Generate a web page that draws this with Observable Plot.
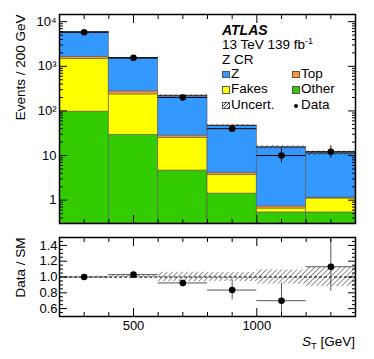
<!DOCTYPE html>
<html>
<head>
<meta charset="utf-8">
<script src="https://cdn.jsdelivr.net/npm/d3@7"></script>
<script src="https://cdn.jsdelivr.net/npm/@observablehq/plot@0.6"></script>
<style>
  html, body { margin: 0; padding: 0; background: white; }
  #wrap { position: relative; width: 374px; height: 359px; background: white; overflow: hidden;
          font-family: 'Liberation Sans', Arial, Helvetica, sans-serif; color: black; }
  #wrap > div > svg { display: block; }
  .lg { position: absolute; white-space: nowrap; font-size: 13.5px; line-height: 12px; }
  .box { position: absolute; width: 8px; height: 7.5px; box-sizing: border-box; border: 0.8px solid #555; }
  .sup { position: relative; top: -5px; font-size: 9px; }
  .sub { position: relative; top: 3px; font-size: 9.5px; }
</style>
</head>
<body>
<div id="wrap">
  <svg width="0" height="0" style="position:absolute">
    <defs>
      <pattern id="hatch" patternUnits="userSpaceOnUse" width="3.6" height="3.6" patternTransform="rotate(45)">
        <line x1="0" y1="0" x2="0" y2="3.6" stroke="#222" stroke-width="1"/>
      </pattern>
    </defs>
  </svg>
  <div id="main"></div>
  <div id="ratio"></div>
</div>
<script>
// ---------------- data ----------------
const binEdges   = [200, 400, 600, 800, 1000, 1200, 1400];
const zVals      = [4270, 1246, 192, 43, 14.7, 10.2];
const topVals    = [180, 39, 3.0, 0.41, 0.08, 0.05];
const fakesVals  = [1354, 206, 20.4, 2.3, 0.12, 0.56];
const otherVals  = [96, 29, 4.6, 1.4, 0.53, 0.53];
const relUnc     = [0.01, 0.02, 0.06, 0.056, 0.09, 0.12];
const dataVals   = [5800, 1560, 200, 40, 10, 12.2];
const dataLo     = [5724, 1520, 186, 34, 6.8, 8.7];
const dataHi     = [5876, 1600, 214, 46.5, 14.2, 16.5];
const ratioVals  = [1.00, 1.03, 0.925, 0.835, 0.70, 1.13];
const ratioLo    = [0.99, 1.00, 0.875, 0.71, 0.45, 0.82];
const ratioHi    = [1.01, 1.06, 0.96, 0.96, 0.92, 1.6];

const xMajorTicks = [500, 1000];
const xMinorTicks = [300, 400, 600, 700, 800, 900, 1100, 1200, 1300];
const yMajorTicks = [1, 10, 100, 1000, 10000];
const yMajorLabels = ["1", "10", "10\u00B2", "10\u00B3", "10\u2074"];
const yMinorTicks = [0.3,0.4,0.5,0.6,0.7,0.8,0.9, 2,3,4,5,6,7,8,9, 20,30,40,50,60,70,80,90,
                     200,300,400,500,600,700,800,900, 2000,3000,4000,5000,6000,7000,8000,9000];
const rMajorTicks = [0.6, 0.8, 1.0, 1.2, 1.4];
const rMinorTicks = [0.55,0.65,0.7,0.75,0.85,0.9,0.95,1.05,1.1,1.15,1.25,1.3,1.35,1.45];

const compNames  = ["Other", "Fakes", "Top", "Z"];
const compColors = ["#33cc00", "#ffff00", "#ff9933", "#3399ff"];
const compVals   = [otherVals, fakesVals, topVals, zVals];

const xDomain = [200, 1400];
const yDomain = [0.3, 14500];
const rDomain = [0.5, 1.5];

// ---------------- derived tables ----------------
const stackRows = [];
const bins = [];
for (let i = 0; i < binEdges.length - 1; i++) {
  let cum = 0;
  compVals.forEach((vals, c) => {
    const y1 = cum === 0 ? yDomain[0] : cum;
    cum += vals[i];
    stackRows.push({x1: binEdges[i], x2: binEdges[i + 1], y1, y2: cum, fill: compColors[c]});
  });
  bins.push({
    x1: binEdges[i], x2: binEdges[i + 1], xc: (binEdges[i] + binEdges[i + 1]) / 2,
    total: cum, unc: relUnc[i],
    data: dataVals[i], lo: dataLo[i], hi: dataHi[i],
    r: ratioVals[i], rlo: ratioLo[i], rhi: ratioHi[i]
  });
}

const font = "'Liberation Sans', Arial, Helvetica, sans-serif";
const style = {fontFamily: font, fontSize: "13px", color: "black", background: "white", overflow: "visible"};

function tickAxis(scale, anchor, ticks, size) {
  const o = {anchor, ticks, tickSize: size, tickFormat: () => "", label: null, strokeWidth: 1};
  if (scale === "x") return Plot.axisX({...o, dy: anchor === "bottom" ? -size : size});
  return Plot.axisY({...o, dx: anchor === "left" ? size : -size});
}

// ---------------- main panel ----------------
const main = Plot.plot({
  width: 374, height: 230,
  marginLeft: 59, marginRight: 19, marginTop: 14, marginBottom: 7,
  style,
  x: {domain: xDomain},
  y: {type: "log", domain: yDomain},
  marks: [
    Plot.rect(stackRows, {x1: "x1", x2: "x2", y1: "y1", y2: "y2", fill: "fill",
      stroke: "#5a5a5a", strokeWidth: 0.8, strokeOpacity: 0.8, clip: true}),
    Plot.rect(bins, {x1: "x1", x2: "x2", y1: d => d.total * (1 - d.unc), y2: d => d.total * (1 + d.unc),
      fill: "url(#hatch)", clip: true}),
    Plot.ruleY(bins, {x1: "x1", x2: "x2", y: "total", stroke: "#333", strokeWidth: 1}),
    Plot.ruleY(bins, {x1: "x1", x2: "x2", y: "data", stroke: "black", strokeWidth: 1, clip: true}),
    Plot.ruleX(bins, {x: "xc", y1: "lo", y2: "hi", stroke: "black", strokeWidth: 1, clip: true}),
    Plot.dot(bins, {x: "xc", y: "data", r: 3.3, fill: "black", stroke: null}),
    Plot.frame({stroke: "black", strokeWidth: 1.5}),
    tickAxis("y", "left", yMajorTicks, 8),
    tickAxis("y", "left", yMinorTicks, 4),
    tickAxis("y", "right", yMajorTicks, 8),
    tickAxis("y", "right", yMinorTicks, 4),
    tickAxis("x", "top", xMajorTicks, 8),
    tickAxis("x", "top", xMinorTicks, 4),
    tickAxis("x", "bottom", xMajorTicks, 8),
    tickAxis("x", "bottom", xMinorTicks, 4),
    Plot.axisY({anchor: "left", ticks: yMajorTicks, tickSize: 0, tickPadding: 3, label: null,
      tickFormat: d => yMajorLabels[yMajorTicks.indexOf(d)], fontSize: 13}),
    Plot.text(["Events / 200 GeV"], {frameAnchor: "top-left", rotate: -90, textAnchor: "end",
      dx: -44, fontSize: 13.5})
  ]
});
document.getElementById("main").appendChild(main);

// ---------------- ratio panel ----------------
const ratio = Plot.plot({
  width: 374, height: 129,
  marginLeft: 59, marginRight: 19, marginTop: 7, marginBottom: 43,
  style,
  x: {domain: xDomain},
  y: {domain: rDomain},
  marks: [
    Plot.rect(bins, {x1: "x1", x2: "x2", y1: d => 1 - d.unc, y2: d => 1 + d.unc, fill: "url(#hatch)", clip: true}),
    Plot.ruleY([1], {stroke: "black", strokeWidth: 1, strokeDasharray: "3,2"}),
    Plot.ruleY(bins, {x1: "x1", x2: "x2", y: "r", stroke: "#555", strokeWidth: 1, clip: true}),
    Plot.ruleX(bins, {x: "xc", y1: "rlo", y2: "rhi", stroke: "#555", strokeWidth: 1, clip: true}),
    Plot.dot(bins, {x: "xc", y: "r", r: 3.3, fill: "black", stroke: null}),
    Plot.frame({stroke: "black", strokeWidth: 1.5}),
    tickAxis("y", "left", rMajorTicks, 8),
    tickAxis("y", "left", rMinorTicks, 4),
    tickAxis("y", "right", rMajorTicks, 8),
    tickAxis("y", "right", rMinorTicks, 4),
    tickAxis("x", "top", xMajorTicks, 8),
    tickAxis("x", "top", xMinorTicks, 4),
    tickAxis("x", "bottom", xMajorTicks, 8),
    tickAxis("x", "bottom", xMinorTicks, 4),
    Plot.axisY({anchor: "left", ticks: rMajorTicks, tickSize: 0, tickPadding: 2, label: null,
      tickFormat: d => d.toFixed(1), fontSize: 13}),
    Plot.axisX({anchor: "bottom", ticks: xMajorTicks, tickSize: 0, tickPadding: 4, label: null,
      tickFormat: d => String(d), fontSize: 13}),
    Plot.text(["Data / SM"], {frameAnchor: "top-left", rotate: -90, textAnchor: "end",
      dx: -44, fontSize: 13.5})
  ]
});
document.getElementById("ratio").appendChild(ratio);

// ---------------- legend / labels (HTML overlay) ----------------
const wrap = document.getElementById("wrap");
function addText(html, left, baseline, extra) {
  const d = document.createElement("div");
  d.className = "lg";
  d.innerHTML = html;
  d.style.left = left + "px";
  d.style.top = (baseline - 10.5) + "px";
  if (extra) Object.assign(d.style, extra);
  wrap.appendChild(d);
  return d;
}
function addBox(left, top, bg) {
  const b = document.createElement("div");
  b.className = "box";
  b.style.left = left + "px";
  b.style.top = top + "px";
  b.style.background = bg;
  wrap.appendChild(b);
}
addText("ATLAS", 222, 34, {fontWeight: "bold", fontStyle: "italic", fontSize: "14px"});
addText("13 TeV 139 fb<span class='sup'>-1</span>", 222, 49.5);
addText("Z CR", 222, 64.5);
const legendItems = [
  {label: "Z", col: 0, row: 0, fill: compColors[3]},
  {label: "Top", col: 1, row: 0, fill: compColors[2]},
  {label: "Fakes", col: 0, row: 1, fill: compColors[1]},
  {label: "Other", col: 1, row: 1, fill: compColors[0]},
  {label: "Uncert.", col: 0, row: 2, fill: "hatch"},
  {label: "Data", col: 1, row: 2, fill: "dot"}
];
legendItems.forEach(it => {
  const bx = it.col === 0 ? 222 : 292;
  const base = 78 + it.row * 15.7;
  if (it.fill === "hatch") {
    addBox(bx, base - 7.5, "repeating-linear-gradient(135deg, #fff 0 1.6px, #444 1.6px 2.4px)");
  } else if (it.fill === "dot") {
    const dot = document.createElement("div");
    Object.assign(dot.style, {position: "absolute", left: (bx + 2) + "px", top: (base - 5.5) + "px",
      width: "4px", height: "4px", borderRadius: "50%", background: "black"});
    wrap.appendChild(dot);
  } else {
    addBox(bx, base - 7.5, it.fill);
  }
  addText(it.label, bx + 9, base);
});
addText("<i>S</i><span class='sub'>T</span> [GeV]", 0, 346,
  {left: "auto", right: "19px", textAlign: "right"});
</script>
</body>
</html>
